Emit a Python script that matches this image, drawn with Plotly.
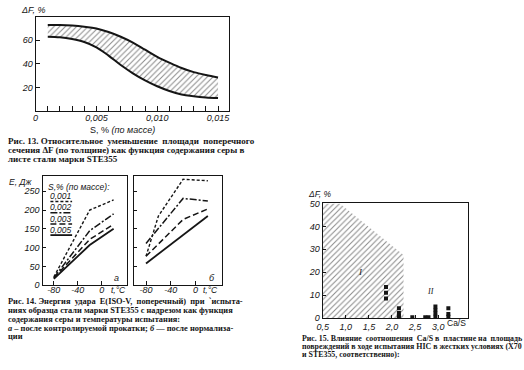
import plotly.graph_objects as go

# ---------------- Fig. 13 data ----------------
s13 = [0.001, 0.002, 0.003, 0.004, 0.005, 0.006, 0.007, 0.008, 0.009, 0.010, 0.011, 0.012, 0.013, 0.014, 0.015]
df13_upper = [73, 73, 72.5, 71.5, 70, 67, 63, 58, 52, 46, 41, 36.5, 33, 30.5, 28.5]
df13_lower = [63, 62.5, 61, 58.5, 54, 47, 39, 32, 26, 21, 17, 14, 12.5, 11.5, 11]
x13_tickvals = [0, 0.005, 0.010, 0.015]
x13_ticktext = ["0", "0,005", "0,010", "0,015"]
y13_tickvals = [20, 40, 60]

# ---------------- Fig. 14 data ----------------
t14_3 = [-80, -20, 20]
t14_4 = [-80, -60, -20, 20]
t14_2 = [-80, 20]
e14a_001 = [22, 200, 227]
e14a_002 = [20, 145, 190]
e14a_003 = [19, 122, 162]
e14a_005 = [17, 107, 150]
e14b_001 = [77, 184, 282, 278]
e14b_002 = [111, 231, 224]
e14b_003 = [77, 175, 203]
e14b_005 = [58, 184]
s_labels = ["0,001", "0,002", "0,003", "0,005"]
x14_tickvals = [-80, -40, 0]
x14_ticktext = ["-80", "-40", "0"]
y14_tickvals = [0, 50, 100, 150, 200, 250]

# ---------------- Fig. 15 data ----------------
regionI_cas = [0.5, 0.5, 0.87, 2.25, 2.25, 0.5]
regionI_df = [0, 50, 50, 27.5, 0, 0]
pts15_cas = [1.87, 1.87, 1.87, 2.15, 2.15, 2.15, 2.15, 2.44, 2.72, 2.79, 2.94, 2.94, 2.94, 2.94, 3.22, 3.22, 3.22]
pts15_df = [13.5, 11, 8.5, 4.3, 2.2, 1, 0.3, 0.3, 0.3, 0.3, 0.5, 2, 3.5, 5, 4.3, 1.8, 0.5]
x15_tickvals = [0.5, 1.0, 1.5, 2.0, 2.5, 3.0]
x15_ticktext = ["0,5", "1,0", "1,5", "2,0", "2,5", "3,0"]
y15_tickvals = [0, 10, 20, 30, 40, 50]

W, H = 524, 370
def px(x):
    return x / W
def py(y):
    return 1 - y / H

INK = "#151515"
NARROW = "Liberation Sans Narrow, Arial Narrow, Liberation Sans, sans-serif"
SERIF = "Liberation Serif, DejaVu Serif, serif"
tickfont = dict(family=NARROW, size=9, color=INK, style="italic")

fig = go.Figure()

# Fig 13 band
fig.add_trace(go.Scatter(x=s13, y=df13_lower, mode="lines", line=dict(color=INK, width=2, shape="spline"),
                         xaxis="x", yaxis="y", hoverinfo="skip"))
fig.add_trace(go.Scatter(x=s13, y=df13_upper, mode="lines", line=dict(color=INK, width=2, shape="spline"),
                         fill="tonexty", fillcolor="white",
                         fillpattern=dict(shape="/", fgcolor=INK, bgcolor="white", size=4, solidity=0.25),
                         xaxis="x", yaxis="y", hoverinfo="skip"))

# Fig 14 dash styles
dashes = ["3px,2px", "7px,2px,2px,2px", "6px,3px", "solid"]
widths = [1.4, 1.5, 1.5, 1.8]
series_a = [(t14_3, e14a_001), (t14_3, e14a_002), (t14_3, e14a_003), (t14_3, e14a_005)]
series_b = [(t14_4, e14b_001), (t14_3, e14b_002), (t14_3, e14b_003), (t14_2, e14b_005)]
for i, (t, e) in enumerate(series_a):
    fig.add_trace(go.Scatter(x=t, y=e, mode="lines", line=dict(color=INK, width=widths[i], dash=dashes[i]),
                             xaxis="x2", yaxis="y2", name=s_labels[i]))
for i, (t, e) in enumerate(series_b):
    fig.add_trace(go.Scatter(x=t, y=e, mode="lines", line=dict(color=INK, width=widths[i], dash=dashes[i]),
                             xaxis="x3", yaxis="y3", name=s_labels[i]))

# Fig 15
fig.add_trace(go.Scatter(x=regionI_cas, y=regionI_df, mode="lines", line=dict(width=0, color="rgba(0,0,0,0)"),
                         fill="toself", fillcolor="white",
                         fillpattern=dict(shape="/", fgcolor=INK, bgcolor="white", size=4, solidity=0.25),
                         xaxis="x4", yaxis="y4", hoverinfo="skip"))
fig.add_trace(go.Scatter(x=pts15_cas, y=pts15_df, mode="markers",
                         marker=dict(symbol="square", size=4, color=INK),
                         xaxis="x4", yaxis="y4"))

axcommon = dict(showline=True, linecolor=INK, linewidth=1.2, mirror=True, showgrid=False, zeroline=False,
                ticks="inside", tickcolor=INK, tickfont=tickfont)

# domains
d13x = [px(30), px(226)]
d13y = [py(109), py(12)]
d14ax = [px(37), px(123)]
d14bx = [px(130), px(219)]
d14y = [py(288), py(176)]
d15x = [px(321), px(468)]
d15y = [py(321.7), py(204)]

fig.update_layout(
    width=W, height=H, margin=dict(l=0, r=0, t=0, b=0),
    paper_bgcolor="white", plot_bgcolor="white", showlegend=False,
    xaxis=dict(domain=d13x, range=[0, 0.0159], tickvals=x13_tickvals, ticktext=x13_ticktext, ticklen=0,
               ticklabelstandoff=-2,
               minor=dict(dtick=0.001, tick0=0, ticks="inside", ticklen=5, tickcolor=INK), anchor="y", **axcommon),
    yaxis=dict(domain=d13y, range=[0, 80], tickvals=y13_tickvals, ticklen=4, anchor="x", **axcommon),
    xaxis2=dict(domain=d14ax, range=[-99, 43], tickvals=x14_tickvals, ticktext=x14_ticktext, ticklen=4,
                ticklabelstandoff=-4, anchor="y2", **axcommon),
    yaxis2=dict(domain=d14y, range=[0, 290], tickvals=y14_tickvals, ticklen=3, anchor="x2", **axcommon),
    xaxis3=dict(domain=d14bx, range=[-99, 43], tickvals=x14_tickvals, ticktext=x14_ticktext, ticklen=4,
                ticklabelstandoff=-4, anchor="y3", **axcommon),
    yaxis3=dict(domain=d14y, range=[0, 290], tickvals=y14_tickvals, ticklen=3, showticklabels=False, anchor="x3", **axcommon),
    xaxis4=dict(domain=d15x, range=[0.5, 3.64], tickvals=x15_tickvals, ticktext=x15_ticktext, ticklen=3, anchor="y4", **axcommon),
    yaxis4=dict(domain=d15y, range=[0, 50], tickvals=y15_tickvals, ticklen=3, anchor="x4", **axcommon),
)

ann = []
def text(x, y, s, size=9, italic=True, family=NARROW, xanchor="center", bold=False):
    ann.append(dict(x=px(x), y=py(y), xref="paper", yref="paper", text=s, showarrow=False,
                    xanchor=xanchor, yanchor="middle",
                    font=dict(family=family, size=size, color=INK, style="italic" if italic else "normal",
                              weight="bold" if bold else "normal")))

NB = "\u00a0"
# Fig 13 labels
text(27, 5, "ΔF, %", size=9)
text(118, 128, "S, % <i>(по массе)</i>", size=9, italic=False)
cap13 = ["<b>Рис. 13.</b> Относительное" + NB * 2 + "уменьшение" + NB * 2 + "площади" + NB * 2 + "поперечного",
         "сечения ΔF (по толщине) как функция содержания серы в",
         "листе стали марки STE355"]
for i, line in enumerate(cap13):
    text(0, 140 + i * 9, line, size=9, italic=False, family=SERIF, xanchor="left", bold=True)

# Fig 14 labels
text(15, 182, "E, Дж", size=8.5)
text(74, 187, "S,% (по массе):", size=8.5)
leg_y = [196.5, 208, 219.5, 231]
for i, lab in enumerate(s_labels):
    text(56, leg_y[i], lab, size=8.5)
text(112, 281, "а", size=9)
text(209, 281, "б", size=9)
text(114, 293, "t,°C", size=8.5)
text(207, 293, "t,°C", size=8.5)
cap14 = ["<b>Рис. 14.</b> Энергия" + NB * 2 + "удара" + NB * 2 + "E(ISO-V," + NB * 2 + "поперечный)" + NB * 2 + "при" + NB * 2 + "`испыта-",
         "ниях образца стали марки STE355 с надрезом как функция",
         "содержания серы и температуры испытания:",
         "<i>а</i> – после контролируемой прокатки; <i>б</i> — после нормализа-",
         "ции"]
for i, line in enumerate(cap14):
    text(0, 305 + i * 9, line, size=8.4, italic=False, family=SERIF, xanchor="left", bold=True)

# Fig 15 labels
text(318, 194, "ΔF, %", size=8.5)
text(359, 274, "I", size=9, family=SERIF)
text(430, 294, "II", size=8, family=SERIF)
text(457, 327, "Ca/S", size=8.5, italic=False)
cap15 = ["<b>Рис. 15.</b> Влияние" + NB * 2 + "соотношения" + NB * 2 + "Ca/S" + NB + "в" + NB * 2 + "пластине" + NB + "на" + NB * 2 + "площадь",
         "повреждений в ходе испытания HIC в жестких условиях (X70",
         "и STE355, соответственно):"]
for i, line in enumerate(cap15):
    text(298, 343 + i * 8, line, size=7.9, italic=False, family=SERIF, xanchor="left", bold=True)

fig.update_layout(annotations=ann)

# legend sample lines for Fig 14a (decorations)
shapes = []
leg_line_y = [202, 213.5, 225, 236.5]
for i in range(4):
    shapes.append(dict(type="line", xref="paper", yref="paper", x0=px(45), x1=px(67),
                       y0=py(leg_line_y[i]), y1=py(leg_line_y[i]),
                       line=dict(color=INK, width=widths[i], dash=dashes[i])))
fig.update_layout(shapes=shapes)

fig.write_html("out.html", config={"displayModeBar": False},
               post_script="document.body.style.margin='0';document.body.style.overflow='hidden';")
